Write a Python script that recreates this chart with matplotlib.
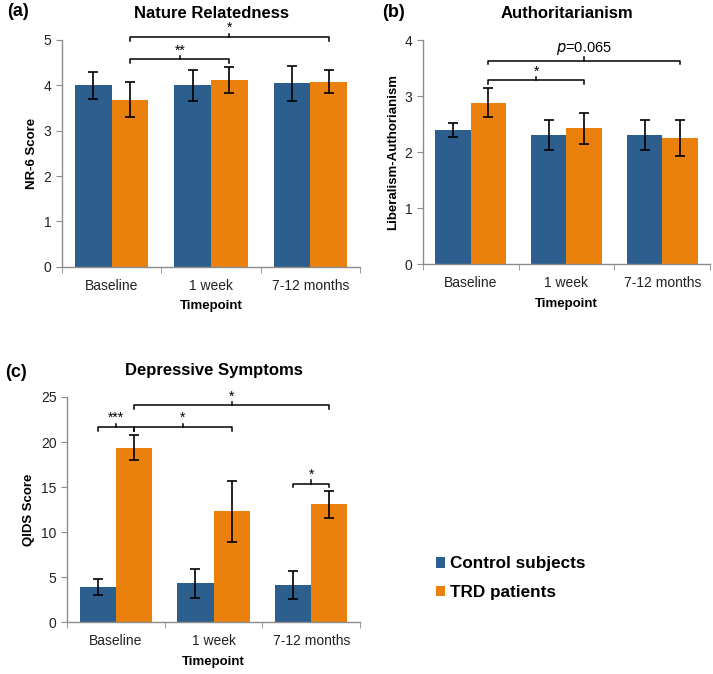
import numpy as np
import matplotlib
matplotlib.use("Agg")
import matplotlib.pyplot as plt

plt.rcParams['font.family'] = ['Liberation Sans', 'DejaVu Sans']

# ---------------------------------------------------------------
# DATA
# ---------------------------------------------------------------
timepoints = ['Baseline', '1 week', '7-12 months']
groups = ['Control subjects', 'TRD patients']

nr6_control = [4.00, 4.00, 4.04]
nr6_control_err = [0.30, 0.34, 0.38]
nr6_trd = [3.68, 4.12, 4.08]
nr6_trd_err = [0.38, 0.29, 0.25]

auth_control = [2.40, 2.31, 2.31]
auth_control_err = [0.12, 0.26, 0.27]
auth_trd = [2.89, 2.43, 2.25]
auth_trd_err = [0.26, 0.28, 0.32]

qids_control = [3.92, 4.29, 4.10]
qids_control_err = [0.91, 1.62, 1.54]
qids_trd = [19.38, 12.31, 13.09]
qids_trd_err = [1.39, 3.37, 1.50]

blue = '#2C5E8E'
orange = '#EB810D'
bar_w = 0.37


def draw_panel(ax, ctrl, ctrl_err, trd, trd_err, ymax, title, ylabel, tag, tag_x, tag_y):
    x = np.arange(len(timepoints))
    ax.bar(x - bar_w / 2, ctrl, bar_w, color=blue, label=groups[0], zorder=2)
    ax.bar(x + bar_w / 2, trd, bar_w, color=orange, label=groups[1], zorder=2)
    ax.errorbar(x - bar_w / 2, ctrl, yerr=ctrl_err, fmt='none', ecolor='black',
                elinewidth=1.2, capsize=3.7, capthick=1.2, zorder=3)
    ax.errorbar(x + bar_w / 2, trd, yerr=trd_err, fmt='none', ecolor='black',
                elinewidth=1.2, capsize=3.7, capthick=1.2, zorder=3)
    ax.set_xlim(-0.5, 2.5)
    ax.set_ylim(0, ymax)
    for s in ['top', 'right']:
        ax.spines[s].set_visible(False)
    for s in ['left', 'bottom']:
        ax.spines[s].set_color('#8c8c8c')
        ax.spines[s].set_linewidth(1.0)
    ax.set_xticks(x)
    ax.set_xticklabels(timepoints, fontsize=10, color='#222222')
    ax.tick_params(axis='x', length=0, pad=8.5)
    ax.set_xticks([-0.5, 0.5, 1.5, 2.5], minor=True)
    ax.tick_params(axis='x', which='minor', length=4, color='#8c8c8c')
    ax.tick_params(axis='y', length=4, color='#8c8c8c', labelsize=10, labelcolor='#222222')
    ax.set_title(title, fontsize=12, fontweight='bold', pad=16)
    ax.set_ylabel(ylabel, fontsize=9.5, fontweight='bold')
    ax.set_xlabel('Timepoint', fontsize=9.5, fontweight='bold', labelpad=5.5)
    ax.text(tag_x, tag_y, tag, transform=ax.transAxes, fontsize=13, fontweight='bold',
            va='center')


def bracket(ax, x1, x2, y, label, h, size=10):
    xm = (x1 + x2) / 2
    ax.plot([x1, x1, x2, x2], [y - h, y, y, y - h], color='black', lw=1.1, clip_on=False)
    ax.plot([xm, xm], [y, y + h * 0.9], color='black', lw=1.1, clip_on=False)
    ax.text(xm, y + h * 0.5, label, ha='center', va='bottom', fontsize=size, clip_on=False)


fig = plt.figure(figsize=(7.13, 6.74), dpi=100)
ax_a = fig.add_axes([0.087, 0.604, 0.418, 0.337])
ax_b = fig.add_axes([0.593, 0.608, 0.403, 0.332])
ax_c = fig.add_axes([0.094, 0.077, 0.411, 0.334])

draw_panel(ax_a, nr6_control, nr6_control_err, nr6_trd, nr6_trd_err, 5,
           'Nature Relatedness', 'NR-6 Score', '(a)', -0.185, 1.125)
draw_panel(ax_b, auth_control, auth_control_err, auth_trd, auth_trd_err, 4,
           'Authoritarianism', 'Liberalism-Authorianism', '(b)', -0.143, 1.125)
draw_panel(ax_c, qids_control, qids_control_err, qids_trd, qids_trd_err, 25,
           'Depressive Symptoms', 'QIDS Score', '(c)', -0.21, 1.11)
ax_a.set_yticks(range(0, 6))
ax_b.set_yticks(range(0, 5))
ax_c.set_yticks(range(0, 26, 5))

c0, t0 = -bar_w / 2, bar_w / 2
# (a)
bracket(ax_a, t0, 1 + t0, 4.57, '**', 0.08)
bracket(ax_a, t0, 2 + t0, 5.06, '*', 0.08)
# (b)
bracket(ax_b, t0, 1 + t0, 3.29, '*', 0.065)
xm = (t0 + 2 + t0) / 2
ax_b.plot([t0, t0, 2 + t0, 2 + t0], [3.64 - 0.065, 3.64, 3.64, 3.64 - 0.065],
          color='black', lw=1.1, clip_on=False)
ax_b.plot([xm, xm], [3.64, 3.70], color='black', lw=1.1, clip_on=False)
ax_b.text(xm, 3.70, r'$p$=0.065', ha='center', va='bottom', fontsize=10.5,
          math_fontfamily='dejavusans')
# (c)
bracket(ax_c, c0, t0, 21.67, '***', 0.4)
bracket(ax_c, t0, 1 + t0, 21.67, '*', 0.4)
bracket(ax_c, t0, 2 + t0, 24.08, '*', 0.4)
bracket(ax_c, 2 + c0, 2 + t0, 15.38, '*', 0.4)

# legend
handles, labels = ax_c.get_legend_handles_labels()
fig.legend(handles, labels, loc='center left', bbox_to_anchor=(0.59, 0.142),
           frameon=False, prop={'weight': 'bold', 'size': 12.3},
           handlelength=0.55, handleheight=0.55, handletextpad=0.25, labelspacing=0.8)

fig.savefig('out.png', dpi=100)
